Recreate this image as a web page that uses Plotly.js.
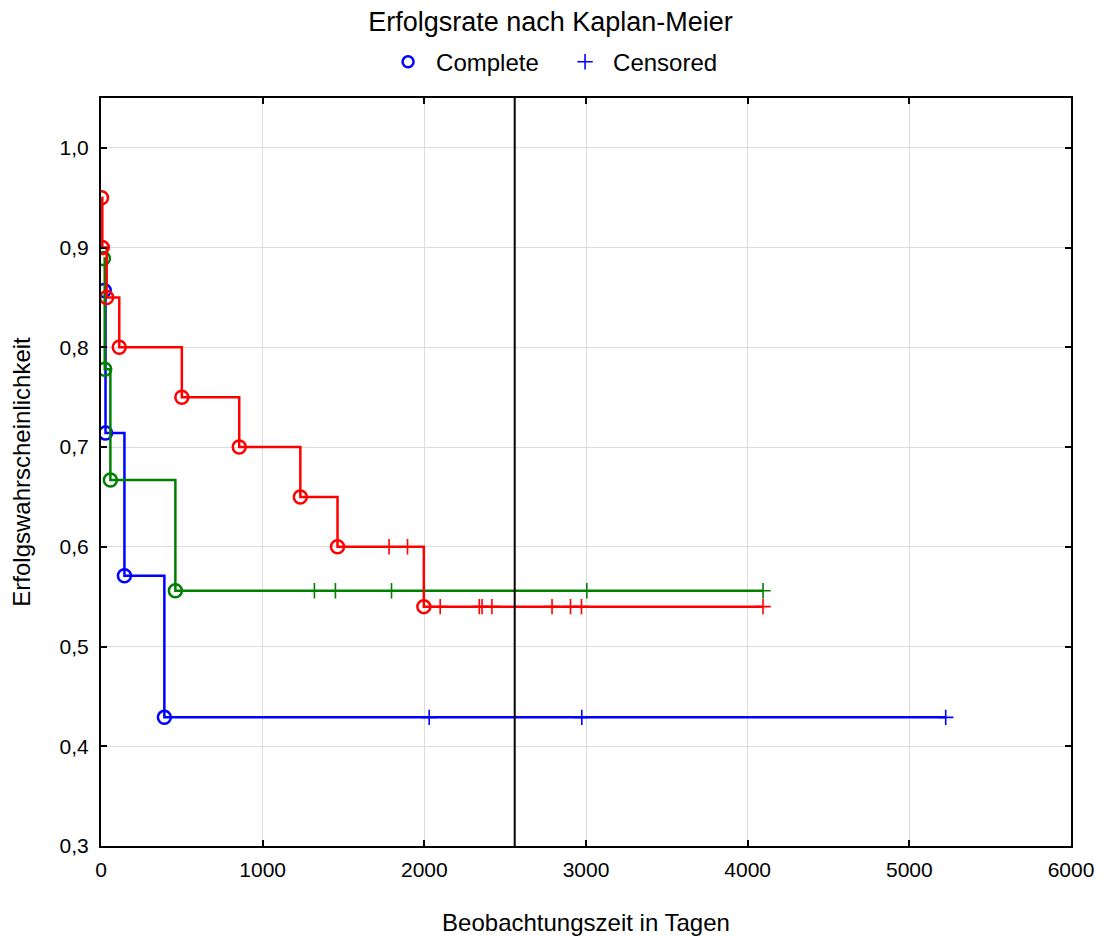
<!DOCTYPE html>
<html>
<head>
<meta charset="utf-8">
<script src="https://cdn.plot.ly/plotly-3.0.1.min.js"></script>
<style>html,body{margin:0;padding:0;background:#fff;}#chart{width:1101px;height:937px;}</style>
</head>
<body>
<div id="chart"></div>
<script>
// ---- data ----
const titleText = "Erfolgsrate nach Kaplan-Meier";
const xTitle = "Beobachtungszeit in Tagen";
const yTitle = "Erfolgswahrscheinlichkeit";
const legendNames = ["Complete", "Censored"];

const blueTimes = [20, 28, 145, 392];
const blueSurv  = [0.857, 0.714, 0.571, 0.429];
const blueCens  = [2030, 2974, 5225];

const redTimes = [3, 8, 35, 113, 500, 855, 1233, 1463, 1997];
const redSurv  = [0.95, 0.90, 0.85, 0.80, 0.75, 0.70, 0.65, 0.60, 0.54];
const redCens  = [1782, 1896, 2098, 2340, 2357, 2418, 2790, 2904, 2972, 4095];

const greenTimes = [15, 23, 58, 460];
const greenSurv  = [0.889, 0.778, 0.667, 0.556];
const greenCens  = [1320, 1450, 1797, 3005, 4095];

const refLineX = 2559;
const xTicks = [0, 1000, 2000, 3000, 4000, 5000, 6000];
const yTicks = [0.3, 0.4, 0.5, 0.6, 0.7, 0.8, 0.9, 1.0];

// ---- build traces ----
function survAt(times, surv, t) {
  let v = 1;
  for (let i = 0; i < times.length; i++) if (times[i] <= t) v = surv[i];
  return v;
}
function group(times, surv, cens, color) {
  const end = Math.max(...cens);
  const xs = times.concat([end]);
  const ys = surv.concat([surv[surv.length - 1]]);
  return [
    {x: xs, y: ys, mode: 'lines', line: {shape: 'hv', color: color, width: 2.5}, showlegend: false, hoverinfo: 'skip'},
    {x: times, y: surv, mode: 'markers', marker: {symbol: 'circle-open', size: 13, color: color, line: {width: 2.5, color: color}}, showlegend: false},
    {x: cens, y: cens.map(c => survAt(times, surv, c)), mode: 'markers', marker: {symbol: 'cross-thin-open', size: 11, color: color, line: {width: 1.6, color: color}}, showlegend: false}
  ];
}

const traces = [].concat(
  group(blueTimes, blueSurv, blueCens, '#0000ff'),
  group(greenTimes, greenSurv, greenCens, '#008000'),
  group(redTimes, redSurv, redCens, '#ff0000'),
  [
    {x: [null], y: [null], mode: 'markers', name: legendNames[0], marker: {symbol: 'circle-open', size: 11, color: '#0000ff', line: {width: 2.5, color: '#0000ff'}}},
    {x: [null], y: [null], mode: 'markers', name: legendNames[1], marker: {symbol: 'cross-thin-open', size: 11, color: '#0000ff', line: {width: 1.6, color: '#0000ff'}}}
  ]
);

const fontFam = 'Liberation Sans, Arial, sans-serif';
const layout = {
  width: 1101, height: 937,
  margin: {l: 101, r: 30, t: 98, b: 91},
  paper_bgcolor: '#fff', plot_bgcolor: '#fff',
  font: {family: fontFam, color: '#000', size: 20},
  separators: ',.',
  title: {text: titleText, x: 0.5, xref: 'container', y: 1 - 22/937, yref: 'container', yanchor: 'middle', xanchor: 'center', font: {size: 27, family: fontFam, color: '#000'}},
  legend: {orientation: 'h', x: 0.2877, xanchor: 'left', y: 1.048, yanchor: 'middle', font: {size: 24}, bgcolor: 'rgba(0,0,0,0)', itemwidth: 46, entrywidth: 116, entrywidthmode: 'pixels'},
  xaxis: {
    range: [0, 6000], tickvals: xTicks, ticktext: xTicks.map(String),
    showgrid: true, gridcolor: '#dcdcdc', gridwidth: 1, zeroline: false,
    showline: true, linecolor: '#000', linewidth: 2, mirror: 'ticks',
    ticks: 'inside', ticklen: 6, tickwidth: 2, tickcolor: '#000',
    tickfont: {size: 21}, ticklabelstandoff: 4,
    title: {text: xTitle, font: {size: 24}, standoff: 34}
  },
  yaxis: {
    range: [0.3, 1.05], tickvals: yTicks, tickformat: '.1f',
    showgrid: true, gridcolor: '#dcdcdc', gridwidth: 1, zeroline: false,
    showline: true, linecolor: '#000', linewidth: 2, mirror: 'ticks',
    ticks: 'inside', ticklen: 6, tickwidth: 2, tickcolor: '#000',
    tickfont: {size: 21}, ticklabelstandoff: 6,
    title: {text: yTitle, font: {size: 24}, standoff: 22}
  },
  shapes: [
    {type: 'line', xref: 'x', yref: 'paper', x0: refLineX, x1: refLineX, y0: 0, y1: 1, line: {color: '#000', width: 2}}
  ],
  showlegend: true
};

Plotly.newPlot('chart', traces, layout, {displayModeBar: false, staticPlot: true});
</script>
</body>
</html>
